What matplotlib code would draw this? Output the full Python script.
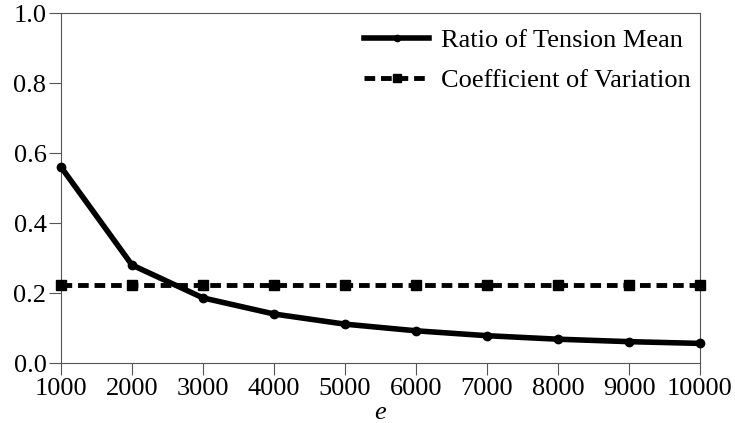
import matplotlib
matplotlib.use("Agg")
import matplotlib.pyplot as plt

plt.rcParams['font.family'] = ['Liberation Serif', 'DejaVu Serif']
plt.rcParams['mathtext.fontset'] = 'custom'
plt.rcParams['mathtext.it'] = 'Liberation Serif:italic'

e = [1000, 2000, 3000, 4000, 5000, 6000, 7000, 8000, 9000, 10000]
ratio_mean = [0.56, 0.28, 0.186, 0.14, 0.111, 0.092, 0.078, 0.068, 0.061, 0.056]
coef_var = [0.222, 0.222, 0.222, 0.222, 0.222, 0.222, 0.222, 0.222, 0.222, 0.222]
yticks = [0.0, 0.2, 0.4, 0.6, 0.8, 1.0]

fig = plt.figure(figsize=(7.35, 4.23), dpi=100)
ax = fig.add_axes([61/735, 1 - 363/423, (700-61)/735, (363-13)/423])

ax.plot(e, ratio_mean, color='black', lw=4, marker='o', ms=6,
        label='Ratio of Tension Mean', clip_on=False, zorder=3)
ax.plot(e, coef_var, color='black', lw=3.5, ls=(0, (2.2, 1.2)), marker='s', ms=7,
        label='Coefficient of Variation', clip_on=False, zorder=3)

ax.set_xlim(1000, 10000)
ax.set_ylim(0, 1.0)
ax.set_xticks(e)
ax.set_yticks(yticks)
ax.set_yticklabels(['%.1f' % v for v in yticks])
ax.tick_params(direction='out', length=8.5, width=0.8, color='#555555',
               labelsize=19, pad=2)
for s in ax.spines.values():
    s.set_color('#555555')
    s.set_linewidth(0.8)

ax.set_xlabel('$e$', fontsize=19, labelpad=2)

ax.legend(loc='upper right', frameon=False, fontsize=19, handlelength=2.45,
          handletextpad=0.45, borderaxespad=0.2, labelspacing=0.62, markerscale=0.75,
          bbox_to_anchor=(1.01, 1.0))

fig.savefig('out.png', dpi=100)
